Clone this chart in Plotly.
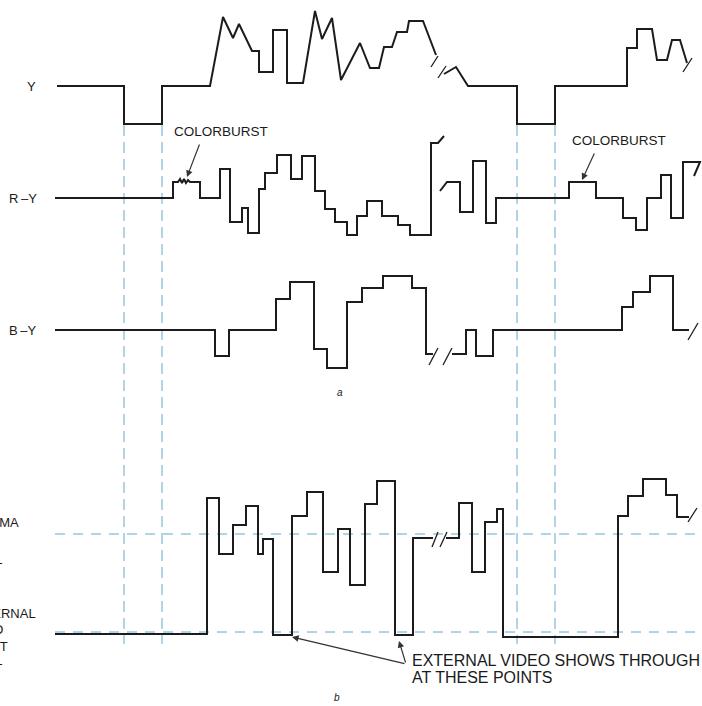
import plotly.graph_objects as go

# waveform samples: time (horizontal units) and level relative to each trace's blanking level
y_time = [57, 124, 124, 162, 162, 210, 223, 233, 239, 252, 259, 259, 273, 273, 287, 287, 303, 315, 322, 332,
          341, 360, 370, 379, 384, 392, 397, 407, 409, 423, 436, None, 444, 456, 468, 517, 517, 555, 555, 627,
          627, 637, 637, 652, 657, 667, 672, 680, 687]
y_level = [0, 0, -38, -38, 0, 0, 69, 48, 62, 35, 35, 14, 14, 56, 56, 3, 3, 75, 47, 68,
           6, 43, 18, 18, 39, 39, 54, 54, 65, 65, 31, None, 12, 19, 0, 0, -38, -38, 0, 0,
           38, 38, 57, 57, 26, 26, 46, 46, 23]

ry_time = [55, 173, 173, 178, 180, 182, 184, 186, 188, 190, 200, 200, 220, 220, 230, 230, 242, 242, 248, 248,
           259, 259, 265, 265, 277, 277, 291, 291, 302, 302, 315, 315, 325, 325, 335, 335, 347, 347, 357, 357,
           367, 367, 382, 382, 398, 398, 410, 410, 431, 431, 438, 444, None, 440, 447, 460, 460, 473, 473, 486,
           486, 496, 496, 569, 569, 596, 596, 623, 623, 636, 636, 647, 647, 661, 661, 671, 671, 683, 683, 700, 694]
ry_level = [0, 0, 16, 16, 19, 15, 19, 15, 18, 16, 16, 0, 0, 29, 29, -24, -24, -10, -10, -35,
            -35, 9, 9, 25, 25, 43, 43, 19, 19, 42, 42, 7, 7, -11, -11, -24, -24, -37, -37, -18,
            -18, -3, -3, -18, -18, -27, -27, -37, -37, 55, 55, 62, None, 7, 16, 16, -14, -14, 37, 37,
            -25, -25, 0, 0, 16, 16, 0, 0, -20, -20, -32, -32, 0, 0, 23, 23, -20, -20, 36, 36, 22]

by_time = [55, 215, 215, 229, 229, 276, 276, 290, 290, 314, 314, 327, 327, 347, 347, 362, 362, 383, 383, 412,
           412, 426, 426, 433, None, 452, 466, 466, 476, 476, 493, 493, 622, 622, 633, 633, 650, 650, 673, 673, 689]
by_level = [0, 0, -26, -26, 0, 0, 31, 31, 48, 48, -19, -19, -38, -38, 28, 28, 42, 42, 54, 54,
            42, 42, -24, -24, None, -24, -24, 0, 0, -26, -26, 0, 0, 23, 23, 38, 38, 54, 54, 0, 0]

key_time = [55, 207, 207, 219, 219, 233, 233, 246, 246, 258, 258, 263, 263, 273, 273, 292, 292, 307, 307, 323,
            323, 338, 338, 350, 350, 365, 365, 377, 377, 395, 395, 413, 413, 433, None, 446, 459, 459, 472, 472,
            485, 485, 497, 497, 503, 503, 618, 618, 628, 628, 643, 643, 666, 666, 677, 677, 689]
key_level = [0, 0, 136, 136, 80, 80, 109, 109, 128, 128, 80, 80, 95, 95, -1, -1, 118, 118, 142, 142,
             62, 62, 105, 105, 49, 49, 130, 130, 153, 153, -1, -1, 96, 96, None, 96, 96, 131, 131, 62,
             62, 112, 112, 125, 125, -3, -3, 118, 118, 138, 138, 155, 155, 139, 139, 117, 117]

# break marks ("//") drawn on each trace
y_brk_time = [431, 438, None, 438, 446, None, 683, 692]
y_brk_level = [19, 30, None, 8, 20, None, 14, 28]
by_brk_time = [429, 438, None, 443, 452, None, 688, 698]
by_brk_level = [-35, -18, None, -35, -18, None, -10, 7]
key_brk_time = [432, 438, None, 440, 447, None, 688, 697]
key_brk_level = [87, 102, None, 87, 102, None, 112, 126]

burst_times = [124, 162, 517, 555]      # blanking / burst gate edges
chroma_key_level = 100                  # relative to key trace base
external_level = 2

W, H = 702, 706
bases = {"Y": 86, "R-Y": 198, "B-Y": 330, "KEY": 634}
ink = "#1c1c1c"
guide = "rgb(98,168,204)"


def to_y(base, levels):
    return [None if v is None else base - v for v in levels]


fig = go.Figure()

traces = [(y_time, y_level, "Y"), (ry_time, ry_level, "R-Y"), (by_time, by_level, "B-Y"),
          (key_time, key_level, "KEY")]
brks = [(y_brk_time, y_brk_level, "Y"), (by_brk_time, by_brk_level, "B-Y"),
        (key_brk_time, key_brk_level, "KEY")]

# guide lines first so the waveforms sit on top
for t in burst_times:
    fig.add_trace(go.Scatter(x=[t, t], y=[125, 644], mode="lines",
                             line=dict(color=guide, width=1, dash="11px,6px"),
                             showlegend=False, hoverinfo="skip"))
for lv in (chroma_key_level, external_level):
    yy = bases["KEY"] - lv
    fig.add_trace(go.Scatter(x=[55, 702], y=[yy, yy], mode="lines",
                             line=dict(color=guide, width=1, dash="10px,8px"),
                             showlegend=False, hoverinfo="skip"))

for tx, lv, key in traces:
    fig.add_trace(go.Scatter(x=tx, y=to_y(bases[key], lv), mode="lines",
                             line=dict(color=ink, width=2), connectgaps=False,
                             showlegend=False, hoverinfo="skip"))
for tx, lv, key in brks:
    fig.add_trace(go.Scatter(x=tx, y=to_y(bases[key], lv), mode="lines",
                             line=dict(color=ink, width=1.3), connectgaps=False,
                             showlegend=False, hoverinfo="skip"))

font = dict(family="Liberation Sans, Arial, sans-serif", color="#1a1a1a")


def label(x, y, text, size=13, anchor="center", **kw):
    fig.add_annotation(x=x, y=y, xref="x", yref="y", text=text, showarrow=False,
                       xanchor=anchor, yanchor="middle", font=dict(size=size, **font), **kw)


label(38, 86, "Y", anchor="right")
label(39, 198, "R\u2009\u2013Y", anchor="right")
label(39, 330, "B\u2009\u2013Y", anchor="right")
label(172, 131, "COLORBURST", size=13.5, anchor="left")
label(570, 140, "COLORBURST", size=13.5, anchor="left")
label(340, 392, "<i>a</i>", size=10)
label(337, 697, "<i>b</i>", size=10)

# left labels of part b, cropped by the page edge as in the source
label(21, 522, "CHROMA", anchor="right")
label(4, 559, "LEVEL", anchor="right")
label(38, 613, "EXTERNAL", anchor="right")
label(5, 629, "VIDEO", anchor="right")
label(10, 646, "SELECT", anchor="right")
label(4, 660, "LEVEL", anchor="right")

label(410, 660, "EXTERNAL VIDEO SHOWS THROUGH", size=16, anchor="left")
label(410, 677, "AT THESE POINTS", size=16, anchor="left")

arrows = [((200, 143), (187, 177)), ((595, 152), (582, 180)),
          ((406, 664), (292, 637)), ((406, 664), (399, 641))]
for (ax, ay), (hx, hy) in arrows:
    fig.add_annotation(x=hx, y=hy, ax=ax, ay=ay, xref="x", yref="y", axref="x", ayref="y",
                       text="", showarrow=True, arrowhead=2, arrowsize=1.1, arrowwidth=1.2,
                       arrowcolor="#333333")

fig.update_xaxes(range=[0, W], visible=False, fixedrange=True)
fig.update_yaxes(range=[H, 0], visible=False, fixedrange=True)
fig.update_layout(width=W, height=H, margin=dict(l=0, r=0, t=0, b=0),
                  plot_bgcolor="white", paper_bgcolor="white", showlegend=False)

fig.write_html("out.html", config={"displayModeBar": False},
               post_script="document.body.style.margin='0px';")
